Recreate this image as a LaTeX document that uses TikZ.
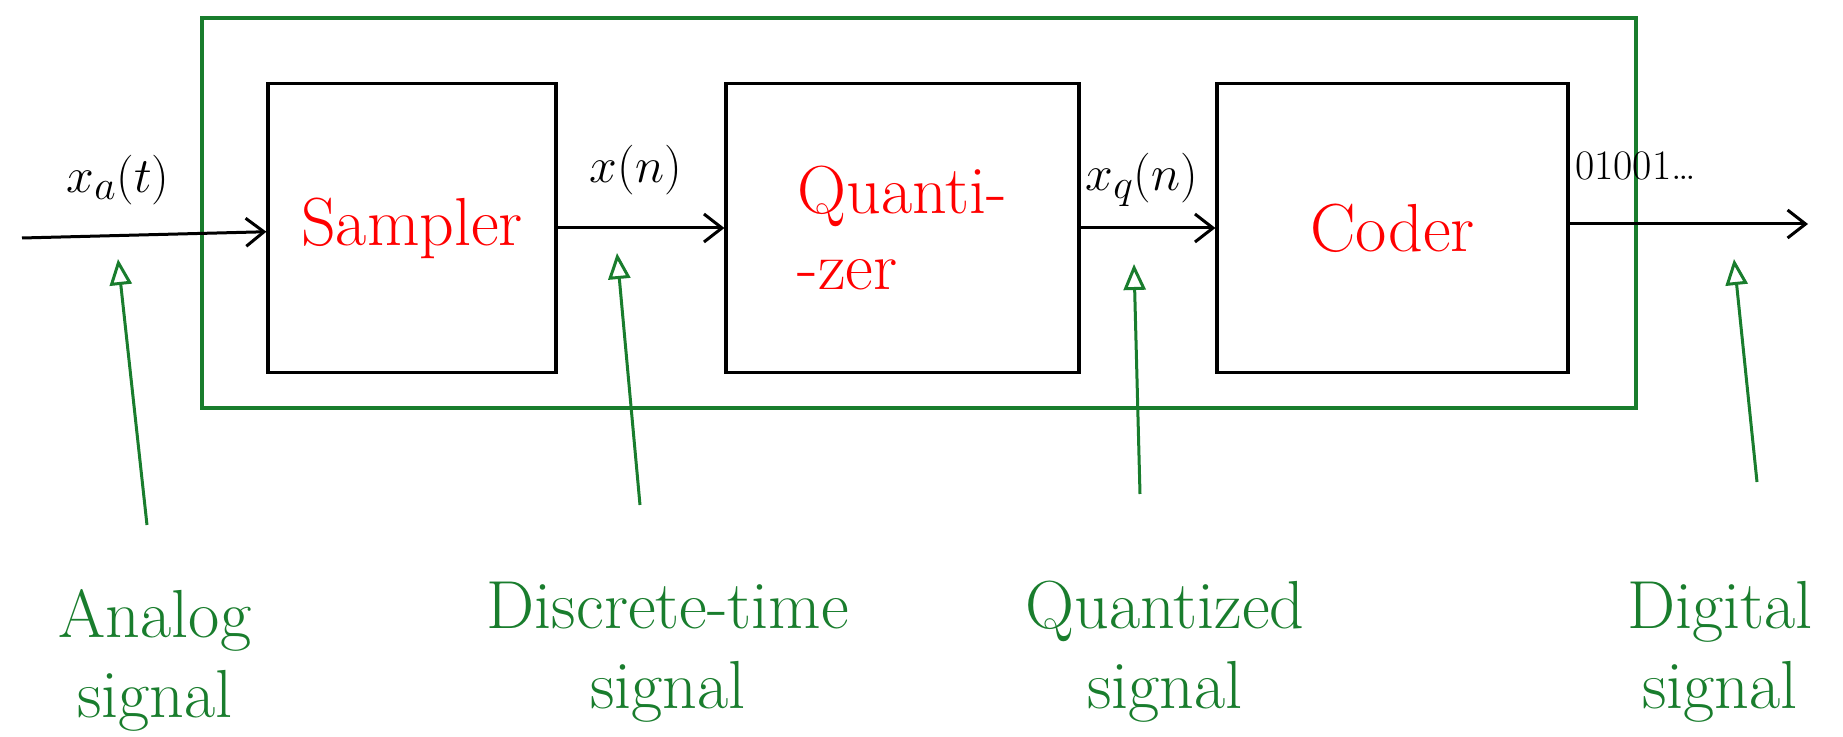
\documentclass[tikz,border=0pt]{standalone}
\usepackage{amsmath,amssymb}
\usetikzlibrary{arrows.meta}

\definecolor{inkgreen}{RGB}{25,125,45}

\begin{document}
\begin{tikzpicture}[x=0.5pt,y=-0.5pt]
\tikzset{
  block/.style={draw,line width=1.6pt,minimum height=144.5pt,inner sep=0pt,font=\fontsize{34}{38}\selectfont,text=red},
  frame/.style={draw=inkgreen,line width=1.6pt,minimum width=717pt,minimum height=195pt,inner sep=0pt},
  signal/.style={-{Straight Barb[length=9pt,width=14pt]},line width=1.5pt},
  pointer/.style={-{Triangle[open,length=13pt,width=11pt]},line width=1.5pt,draw=inkgreen},
  siglabel/.style={font=\fontsize{30}{34}\selectfont},
  greenlabel/.style={text=inkgreen,align=center,font=\fontsize{34}{40}\selectfont}
}
\useasboundingbox (0,0) rectangle (1843,737);
\node[frame] (n_frame) at (919,213) {};
\node[block,minimum width=144pt] (n_sampler) at (412,228) {Sampler};
\node[block,minimum width=176.5pt,align=left] (n_quant) at (902.5,228) {Quanti-\\-zer};
\node[block,minimum width=175.5pt] (n_coder) at (1392.5,228) {Coder};
\coordinate (c_in) at (22,238);
\coordinate (c_out) at (1808,224);
\node[siglabel] (n_xa) at (118,180) {$x_a(t)$};
\node[siglabel] (n_xn) at (636,170) {$x(n)$};
\node[siglabel] (n_xq) at (1142,180) {$x_q(n)$};
\node[font=\fontsize{21}{24}\selectfont,anchor=west] (n_bits) at (1568,166) {01001\dots};
\draw[signal] (c_in) -- (n_sampler);
\draw[signal] (n_sampler) -- (n_quant);
\draw[signal] (n_quant) -- (n_coder);
\draw[signal] (n_coder.east |- c_out) -- (c_out);
\node[greenlabel] (n_analog) at (155,660) {Analog\\signal};
\node[greenlabel] (n_discrete) at (668,652) {Discrete-time\\signal};
\node[greenlabel] (n_quantized) at (1165,652) {Quantized\\signal};
\node[greenlabel] (n_digital) at (1720,652) {Digital\\signal};
\coordinate (c_analog_a) at (147,525);
\coordinate (c_analog_b) at (118,259);
\coordinate (c_discrete_a) at (640,505);
\coordinate (c_discrete_b) at (617,253);
\coordinate (c_quantized_a) at (1140,494);
\coordinate (c_quantized_b) at (1134,264);
\coordinate (c_digital_a) at (1757,482);
\coordinate (c_digital_b) at (1734,259);
\draw[pointer] (c_analog_a) -- (c_analog_b);
\draw[pointer] (c_discrete_a) -- (c_discrete_b);
\draw[pointer] (c_quantized_a) -- (c_quantized_b);
\draw[pointer] (c_digital_a) -- (c_digital_b);
\end{tikzpicture}
\end{document}
